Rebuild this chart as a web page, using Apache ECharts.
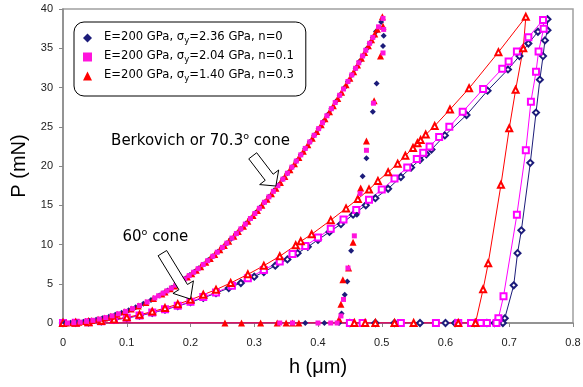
<!DOCTYPE html>
<html lang="en">
<head>
    <meta charset="UTF-8">
    <title>Indentation P-h curves</title>
    <script src="https://cdn.jsdelivr.net/npm/echarts@6/dist/echarts.min.js"></script>
    <style>
        html, body { margin: 0; padding: 0; background: #fff; }
        #chart { width: 583px; height: 387px; }
    </style>
</head>
<body>
<div id="chart"></div>
<script>
    // legend names
    var names = [
        'E=200 GPa, σy=2.36 GPa, n=0',
        'E=200 GPa, σy=2.04 GPa, n=0.1',
        'E=200 GPa, σy=1.40 GPa, n=0.3'
    ];

    // Berkovich / 70.3 deg cone (filled markers) [h um, P mN]
    var berkNavy = [
        [0.003,0],[0.012,0.02],[0.022,0.07],[0.032,0.16],[0.042,0.27],[0.052,0.42],[0.062,0.59],[0.072,0.80],
        [0.082,1.04],[0.092,1.30],[0.103,1.63],[0.114,2.0],[0.126,2.45],[0.138,2.93],[0.151,3.51],[0.164,4.14],
        [0.178,4.88],[0.192,5.68],[0.206,6.54],[0.220,7.45],[0.235,8.50],[0.250,9.63],[0.264,10.73],[0.279,11.99],
        [0.294,13.31],[0.309,14.70],[0.323,16.07],[0.338,17.59],[0.352,19.08],[0.366,20.63],[0.380,22.24],[0.394,23.91],
        [0.408,25.63],[0.421,27.30],[0.434,29.01],[0.447,30.77],[0.459,32.45],[0.470,34.02],[0.481,35.63],[0.491,37.13],
        [0.499,38.35],
        [0.157,3.80],[0.171,4.50],[0.185,5.27],[0.199,6.10],[0.213,6.99],[0.228,8.01],[0.243,9.09],[0.257,10.17],
        [0.272,11.39],[0.287,12.68],[0.302,14.05],[0.316,15.38],[0.331,16.87],[0.345,18.33],[0.359,19.85],[0.373,21.43],
        [0.387,23.06],[0.401,24.76],[0.415,26.52],[0.428,28.21],[0.441,29.95],[0.453,31.60],[0.465,33.30],[0.476,34.89],
        [0.486,36.37],
        [0.503,36.6],[0.502,35.3],[0.492,30.5],[0.486,26.9],[0.476,21.0],[0.470,18.7],[0.461,13.8],[0.452,9.2],
        [0.446,5.3],[0.442,3.6],[0.437,1.2],
        [0.433,0],[0.41,0],[0.38,0]
    ];
    var berkMag = [
        [0.007,0.01],[0.017,0.04],[0.027,0.11],[0.037,0.21],[0.047,0.34],[0.057,0.50],[0.067,0.69],[0.077,0.91],
        [0.087,1.17],[0.098,1.48],[0.109,1.83],[0.120,2.22],[0.132,2.68],[0.144,3.19],[0.157,3.80],[0.170,4.45],
        [0.184,5.21],[0.198,6.04],[0.212,6.92],[0.227,7.94],[0.242,9.02],[0.257,10.17],[0.272,11.39],[0.286,12.60],
        [0.301,13.95],[0.316,15.38],[0.330,16.77],[0.345,18.33],[0.359,19.85],[0.373,21.42],[0.387,23.07],[0.401,24.76],
        [0.414,26.40],[0.427,28.08],[0.440,29.81],[0.453,31.60],[0.464,33.15],[0.475,34.74],[0.486,36.38],[0.495,37.73],
        [0.502,38.8],
        [0.150,3.47],[0.163,4.09],[0.177,4.82],[0.191,5.62],[0.205,6.47],[0.220,7.45],[0.235,8.50],[0.250,9.63],
        [0.265,10.81],[0.279,11.99],[0.294,13.31],[0.308,14.61],[0.323,16.07],[0.337,17.49],[0.352,19.08],[0.366,20.63],
        [0.380,22.24],[0.394,23.91],[0.407,25.51],[0.421,27.30],[0.434,29.01],[0.447,30.77],[0.459,32.45],[0.470,34.02],
        [0.481,35.63],
        [0.503,37.4],[0.502,34.4],[0.487,28.0],[0.476,22.0],[0.466,16.5],[0.457,11.1],[0.447,7.0],[0.440,3.0],
        [0.436,0.9],
        [0.43,0],[0.42,0],[0.40,0],[0.36,0],[0.34,0]
    ];
    var berkRed = [
        [0.005,0],[0.015,0.03],[0.025,0.10],[0.035,0.19],[0.045,0.31],[0.055,0.47],[0.065,0.65],[0.075,0.87],
        [0.085,1.12],[0.096,1.42],[0.107,1.77],[0.118,2.15],[0.130,2.60],[0.142,3.11],[0.155,3.70],[0.168,4.35],
        [0.181,5.05],[0.195,5.86],[0.209,6.73],[0.224,7.73],[0.238,8.72],[0.253,9.86],[0.268,11.06],[0.283,12.33],
        [0.298,13.68],[0.312,14.99],[0.327,16.47],[0.341,17.91],[0.356,19.52],[0.370,21.08],[0.384,22.71],[0.398,24.40],
        [0.411,26.01],[0.424,27.69],[0.437,29.41],[0.450,31.19],[0.462,32.87],[0.473,34.45],[0.484,36.08],[0.493,37.43],
        [0.501,39.0],
        [0.160,3.94],[0.175,4.72],[0.188,5.44],[0.202,6.28],[0.216,7.18],[0.231,8.22],[0.246,9.32],[0.260,10.41],
        [0.275,11.65],[0.290,12.95],[0.305,14.33],[0.320,15.77],[0.334,17.18],[0.348,18.65],[0.363,20.29],[0.377,21.89],
        [0.391,23.54],[0.405,25.26],[0.418,26.91],[0.431,28.61],[0.444,30.36],[0.456,32.02],[0.468,33.73],[0.479,35.33],
        [0.489,36.83],
        [0.502,37.8],[0.498,34.0],[0.488,28.3],[0.476,23.2],[0.467,17.2],[0.455,10.3],[0.448,7.0],[0.439,5.5],
        [0.436,2.4],[0.433,0.5],
        [0.37,0],[0.36,0],[0.35,0],[0.336,0],[0.31,0],[0.28,0],[0.254,0]
    ];

    // 60 deg cone (hollow markers + line) [h um, P mN]
    var coneNavy = [
        [0,0],[0.02,0.02],[0.04,0.1],[0.06,0.22],[0.08,0.4],[0.10,0.63],[0.12,0.93],[0.14,1.28],[0.16,1.7],
        [0.18,2.15],[0.20,2.65],[0.22,3.2],[0.24,3.8],[0.26,4.45],[0.279,5.1],[0.30,5.9],[0.315,6.5],[0.333,7.3],
        [0.352,8.1],[0.368,8.9],[0.384,9.7],[0.40,10.6],[0.418,11.6],[0.436,12.6],[0.455,13.8],[0.475,15.0],
        [0.49,15.9],[0.51,17.1],[0.53,18.6],[0.546,19.8],[0.56,20.8],[0.57,21.5],[0.578,22.1],[0.599,23.9],
        [0.633,26.5],[0.666,29.6],[0.698,32.3],[0.716,34.0],[0.730,35.6],[0.745,37.1],[0.760,38.7],
        [0.760,37.3],[0.756,36.0],[0.753,34.0],[0.748,31.0],[0.742,26.8],[0.733,20.4],[0.719,11.8],[0.713,8.9],
        [0.707,4.8],[0.693,0.6],[0.69,0],
        [0.677,0],[0.665,0],[0.645,0],[0.615,0],[0.60,0],[0.56,0],[0.52,0],[0.49,0],[0.45,0]
    ];
    var coneMag = [
        [0,0],[0.02,0.02],[0.04,0.1],[0.06,0.23],[0.08,0.42],[0.10,0.66],[0.12,0.97],[0.14,1.33],[0.16,1.75],
        [0.18,2.2],[0.20,2.72],[0.22,3.3],[0.24,3.9],[0.265,4.75],[0.29,5.7],[0.315,6.75],[0.34,7.85],[0.36,8.8],
        [0.38,9.8],[0.40,10.9],[0.42,12.0],[0.44,13.2],[0.46,14.4],[0.48,15.7],[0.50,17.0],[0.52,18.4],[0.54,19.8],
        [0.555,20.9],[0.565,21.7],[0.575,22.5],[0.59,23.7],[0.606,25.0],[0.627,26.9],[0.659,29.8],[0.689,32.4],
        [0.699,33.3],[0.712,34.6],[0.730,36.4],[0.753,38.6],
        [0.754,37.5],[0.746,34.6],[0.742,32.0],[0.734,28.2],[0.726,22.0],[0.712,13.8],[0.691,3.4],[0.683,0.6],[0.68,0],
        [0.665,0],[0.655,0],[0.64,0],[0.62,0],[0.585,0],[0.53,0],[0.47,0],[0.45,0]
    ];
    var coneRed = [
        [0,0],[0.02,0.02],[0.04,0.1],[0.06,0.25],[0.08,0.45],[0.10,0.72],[0.12,1.05],[0.14,1.45],[0.16,1.9],
        [0.18,2.4],[0.20,2.95],[0.22,3.6],[0.24,4.25],[0.263,5.1],[0.29,6.2],[0.315,7.3],[0.34,8.5],[0.365,9.9],
        [0.373,10.4],[0.39,11.3],[0.42,13.1],[0.444,14.6],[0.4625,15.8],[0.48,17.0],[0.494,18.1],[0.51,19.2],
        [0.525,20.3],[0.537,21.3],[0.549,22.3],[0.556,22.9],[0.561,23.3],[0.569,24.0],[0.583,25.1],[0.607,27.2],
        [0.637,29.9],[0.683,34.5],[0.726,39.0],
        [0.722,35.0],[0.71,29.7],[0.70,24.8],[0.687,17.6],[0.667,7.6],[0.659,4.3],[0.647,0],
        [0.62,0],[0.55,0],[0.52,0],[0.49,0],[0.474,0],[0.457,0]
    ];

    var xTicks = {min: 0, max: 0.8, interval: 0.1};
    var yTicks = {min: 0, max: 40, interval: 5};

    var navy = '#1c1c7a', mag = '#ff00ff', magFill = '#ff14dc', red = '#ff0000';
    var font = 'Liberation Sans, Arial, sans-serif';
    var tFont = 'DejaVu Sans, Verdana, sans-serif';

    // line retracts back to the origin without a marker
    function coneData(arr) {
        return arr.map(function (p) { return p; }).concat([{value: [0, 0], symbol: 'none'}]);
    }

    function coneSeries(name, arr, color, symbol) {
        return {
            name: name, type: 'line', data: coneData(arr), symbol: symbol, symbolSize: 6,
            lineStyle: {color: color, width: 1}, itemStyle: {color: color, borderColor: color, borderWidth: 1},
            z: 2
        };
    }

    function berkSeries(name, arr, color, symbol, size) {
        return {
            name: name, type: 'scatter', data: arr, symbol: symbol, symbolSize: size,
            itemStyle: {color: color, opacity: 1}, z: 3
        };
    }

    var chart = echarts.init(document.getElementById('chart'), null, {renderer: 'canvas'});

    var option = {
        animation: false,
        backgroundColor: '#fff',
        grid: {left: 63, right: 10, top: 9, bottom: 64, show: true, borderColor: '#a0a0a0', borderWidth: 1.5,
            containLabel: false, outerBoundsMode: 'none'},
        legend: {
            left: 74, top: 22, orient: 'vertical',
            data: [
                {name: names[0], icon: 'diamond'},
                {name: names[1], icon: 'rect'},
                {name: names[2], icon: 'triangle'}
            ],
            itemWidth: 9, itemHeight: 9, itemGap: 5,
            padding: [9, 12, 13, 9],
            borderColor: '#000', borderWidth: 1, borderRadius: 10, backgroundColor: '#fff',
            selectedMode: false,
            formatter: function (name) {
                var parts = name.split('σy');
                return '{f|' + parts[0] + 'σ}{s|y}{a|' + parts[1] + '}';
            },
            textStyle: {
                fontFamily: tFont, fontSize: 11.6, color: '#000',
                rich: {
                    f: {fontFamily: tFont, fontSize: 11.6, color: '#000', lineHeight: 14, verticalAlign: 'top', padding: [0, 0, 0, 7]},
                    a: {fontFamily: tFont, fontSize: 11.6, color: '#000', lineHeight: 14, verticalAlign: 'top'},
                    s: {fontFamily: tFont, fontSize: 8.5, color: '#000', lineHeight: 8, verticalAlign: 'bottom'}
                }
            }
        },
        xAxis: {
            type: 'value', min: xTicks.min, max: xTicks.max, interval: xTicks.interval,
            name: 'h (μm)', nameLocation: 'middle', nameGap: 34,
            nameTextStyle: {fontFamily: font, fontSize: 20, color: '#000'},
            splitLine: {show: false},
            axisLine: {lineStyle: {color: '#888', width: 1.5}},
            axisTick: {show: true, length: 4, lineStyle: {color: '#888'}},
            axisLabel: {fontFamily: font, fontSize: 11, color: '#222', margin: 14}
        },
        yAxis: {
            type: 'value', min: yTicks.min, max: yTicks.max, interval: yTicks.interval,
            name: 'P (mN)', nameLocation: 'middle', nameGap: 25, nameRotate: 90,
            nameTextStyle: {fontFamily: font, fontSize: 20, color: '#000'},
            splitLine: {show: false},
            axisLine: {show: true, lineStyle: {color: '#888', width: 1.5}},
            axisTick: {show: true, length: 4, lineStyle: {color: '#888'}},
            axisLabel: {fontFamily: font, fontSize: 11, color: '#222', margin: 10}
        },
        series: [
            coneSeries('cone n=0', coneNavy, navy, 'emptyDiamond'),
            coneSeries('cone n=0.1', coneMag, mag, 'emptyRect'),
            coneSeries('cone n=0.3', coneRed, red, 'emptyTriangle'),
            // navy underneath, magenta drawn last so it dominates the band
            berkSeries(names[0], berkNavy, navy, 'diamond', 6),
            berkSeries(names[2], berkRed, red, 'triangle', 7),
            berkSeries(names[1], berkMag, magFill, 'rect', 5)
        ]
    };
    chart.setOption(option);

    // annotation anchors in data units [h, P]
    var berkText = [0.2157, 23.2], berkTail = [0.2976, 21.3], berkTip = [0.3339, 17.45];
    var coneText = [0.1449, 11.0], coneTail = [0.1559, 8.9], coneTip = [0.2, 3.05];

    function px(p) { return chart.convertToPixel({gridIndex: 0}, p); }

    function arrow(tail, tip, shaftHalf, headHalf, headLen) {
        var a = px(tail), b = px(tip);
        var dx = b[0] - a[0], dy = b[1] - a[1], L = Math.hypot(dx, dy);
        var ux = dx / L, uy = dy / L, nx = -uy, ny = ux;
        var hx = b[0] - ux * headLen, hy = b[1] - uy * headLen;
        return {
            type: 'polygon', z: 20,
            shape: {points: [
                [a[0] + nx * shaftHalf, a[1] + ny * shaftHalf],
                [hx + nx * shaftHalf, hy + ny * shaftHalf],
                [hx + nx * headHalf, hy + ny * headHalf],
                b,
                [hx - nx * headHalf, hy - ny * headHalf],
                [hx - nx * shaftHalf, hy - ny * shaftHalf],
                [a[0] - nx * shaftHalf, a[1] - ny * shaftHalf]
            ]},
            style: {fill: '#fff', stroke: '#000', lineWidth: 1}
        };
    }

    function label(pos, main, tail) {
        var p = px(pos);
        return {
            type: 'text', x: p[0], y: p[1], z: 20,
            style: {
                text: '{t|' + main + '}{s|o}{t|' + tail + '}',
                align: 'center', verticalAlign: 'middle',
                rich: {
                    t: {fontFamily: tFont, fontSize: 15, fill: '#000', lineHeight: 18, verticalAlign: 'middle'},
                    s: {fontFamily: tFont, fontSize: 9.5, fill: '#000', lineHeight: 10, verticalAlign: 'top'}
                }
            }
        };
    }

    chart.setOption({
        graphic: [
            label(berkText, 'Berkovich or 70.3', ' cone'),
            arrow(berkTail, berkTip, 5, 12, 11),
            label(coneText, '60', ' cone'),
            arrow(coneTail, coneTip, 5, 12, 14)
        ]
    });
</script>
</body>
</html>
